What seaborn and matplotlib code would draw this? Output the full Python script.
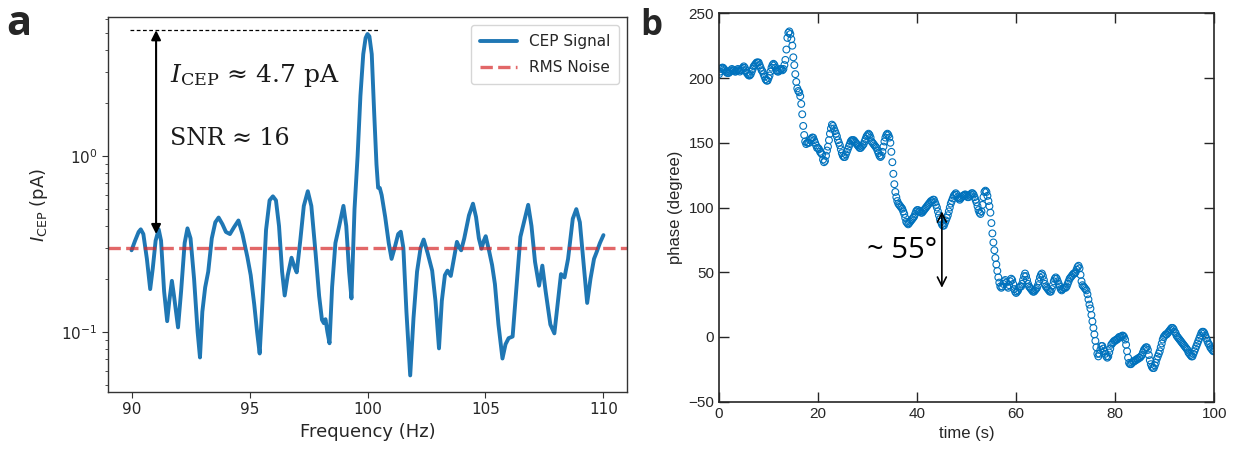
import numpy as np
import pandas as pd
import matplotlib
matplotlib.use("Agg")
import matplotlib.pyplot as plt
import seaborn as sns

# ---------------- Panel a data: CEP current spectrum ----------------
freq_hz = [
    90.00, 90.15, 90.30, 90.39, 90.50, 90.65, 90.79, 90.90, 91.02, 91.15,
    91.25, 91.38, 91.51, 91.60, 91.71, 91.80, 91.97, 92.10, 92.25, 92.37,
    92.50, 92.65, 92.80, 92.90, 93.00, 93.12, 93.25, 93.40, 93.55, 93.69,
    93.85, 94.00, 94.17, 94.35, 94.53, 94.70, 94.91, 95.05, 95.20, 95.32,
    95.43, 95.55, 95.70, 95.85, 95.99, 96.12, 96.25, 96.38, 96.49, 96.62,
    96.78, 96.90, 97.00, 97.15, 97.30, 97.47, 97.62, 97.80, 97.95, 98.07,
    98.15, 98.22, 98.30, 98.39, 98.50, 98.64, 98.80, 98.98, 99.10, 99.22,
    99.32, 99.45, 99.58, 99.70, 99.82, 99.92, 100.00, 100.08, 100.18, 100.28,
    100.38, 100.45, 100.52, 100.60, 100.75, 100.90, 101.02, 101.15, 101.30, 101.41,
    101.52, 101.65, 101.81, 101.95, 102.10, 102.25, 102.38, 102.55, 102.74, 102.88,
    103.03, 103.15, 103.28, 103.39, 103.53, 103.66, 103.79, 103.90, 103.97, 104.10,
    104.30, 104.47, 104.60, 104.72, 104.83, 104.93, 105.01, 105.15, 105.28, 105.40,
    105.55, 105.72, 105.85, 105.98, 106.15, 106.30, 106.48, 106.65, 106.81, 106.95,
    107.10, 107.27, 107.41, 107.55, 107.75, 107.92, 108.05, 108.20, 108.35, 108.50,
    108.70, 108.85, 109.00, 109.15, 109.31, 109.45, 109.60, 109.71, 109.85, 110.00,
]
cep_signal_pa = [
    0.291, 0.330, 0.370, 0.383, 0.360, 0.260, 0.175, 0.230, 0.330, 0.383,
    0.330, 0.170, 0.115, 0.150, 0.195, 0.160, 0.106, 0.170, 0.320, 0.388,
    0.340, 0.200, 0.100, 0.0715, 0.130, 0.179, 0.220, 0.340, 0.420, 0.447,
    0.410, 0.370, 0.360, 0.395, 0.430, 0.360, 0.266, 0.210, 0.143, 0.100,
    0.0753, 0.150, 0.380, 0.560, 0.590, 0.560, 0.400, 0.220, 0.161, 0.210,
    0.264, 0.235, 0.218, 0.330, 0.520, 0.631, 0.520, 0.280, 0.160, 0.117,
    0.112, 0.118, 0.100, 0.0861, 0.180, 0.320, 0.400, 0.521, 0.400, 0.220,
    0.155, 0.500, 1.000, 2.200, 3.800, 4.700, 4.950, 4.800, 3.800, 1.800,
    0.900, 0.660, 0.659, 0.600, 0.450, 0.320, 0.260, 0.300, 0.360, 0.371,
    0.300, 0.130, 0.0565, 0.120, 0.220, 0.300, 0.335, 0.280, 0.223, 0.150,
    0.0805, 0.150, 0.210, 0.223, 0.208, 0.260, 0.325, 0.300, 0.291, 0.340,
    0.460, 0.536, 0.450, 0.340, 0.297, 0.330, 0.350, 0.290, 0.240, 0.187,
    0.110, 0.0705, 0.085, 0.092, 0.094, 0.170, 0.347, 0.430, 0.528, 0.400,
    0.250, 0.183, 0.238, 0.170, 0.110, 0.098, 0.140, 0.213, 0.204, 0.260,
    0.440, 0.499, 0.420, 0.250, 0.146, 0.200, 0.260, 0.284, 0.320, 0.355,
]
rms_noise_pa = 0.30
peak_marker_pa = 5.2
arrow_bottom_pa = 0.36
freq_ticks = [90, 95, 100, 105, 110]

# ---------------- Panel b data: phase vs time (0.2 s sampling) ----------------
phase_deg = [
    203, 205, 207, 208, 208,  207, 206, 205, 204, 204,  204, 205, 206, 207, 206,
    206, 205, 205, 206, 207,  206, 205, 206, 207, 208,  209, 208, 206, 204, 203,
    202, 202, 203, 205, 207,  209, 210, 211, 212, 212,  212, 210, 208, 206, 205,
    203, 201, 199, 198, 198,  200, 202, 205, 208, 210,  211, 210, 208, 206, 205,
    205, 206, 207, 207, 206,  207, 210, 214, 222, 231,  235, 236, 234, 230, 225,
    216, 210, 203, 197, 192,  190, 189, 186, 180, 172,  163, 156, 151, 149, 150,
    150, 150, 152, 153, 154,  154, 152, 150, 148, 146,  146, 145, 143, 142, 141,
    137, 135, 136, 140, 144,  147, 152, 157, 161, 164,  163, 161, 159, 157, 155,
    152, 150, 148, 145, 142,  140, 139, 139, 141, 143,  145, 147, 149, 151, 152,
    152, 152, 151, 150, 149,  148, 147, 146, 146, 147,  148, 149, 151, 153, 155,
    156, 157, 156, 154, 151,  150, 149, 148, 147, 146,  144, 142, 140, 139, 140,
    143, 147, 151, 154, 156,  157, 156, 154, 150, 143,  135, 126, 118, 112, 108,
    105, 103, 102, 101, 100,  99, 97, 95, 92, 89,  88, 87, 88, 89, 90,
    91, 92, 93, 95, 97,  98, 98, 97, 97, 96,  96, 97, 98, 99, 100,
    101, 102, 103, 104, 105,  105, 106, 106, 104, 102,  100, 97, 94, 91, 89,
    87, 86, 86, 88, 90,  92, 94, 97, 100, 103,  105, 107, 109, 110, 111,
    110, 108, 107, 106, 107,  108, 109, 109, 110, 110,  109, 108, 108, 109, 110,
    111, 111, 110, 108, 106,  104, 101, 98, 96, 95,  97, 102, 108, 112, 113,
    112, 109, 105, 101, 96,  88, 80, 73, 67, 61,  56, 51, 46, 42, 39,
    38, 39, 41, 43, 44,  42, 39, 38, 40, 43,  45, 44, 41, 37, 35,
    34, 35, 36, 38, 39,  39, 41, 44, 47, 49,  47, 44, 41, 39, 38,
    37, 36, 35, 35, 36,  37, 38, 40, 43, 46,  48, 49, 47, 44, 41,
    39, 38, 37, 36, 35,  35, 37, 40, 43, 45,  46, 45, 43, 41, 39,
    37, 36, 37, 38, 38,  38, 39, 41, 43, 45,  46, 47, 48, 49, 49,
    50, 52, 54, 55, 53,  48, 43, 40, 39, 38,  37, 36, 33, 29, 25,
    22, 17, 12, 7, 2,  -3, -8, -13, -15, -13,  -10, -7, -7, -9, -11,
    -13, -15, -16, -15, -12,  -9, -6, -5, -4, -3,  -3, -2, -2, -1, 0,
    0, 0, 1, 1, 0,  -2, -6, -11, -16, -20,  -21, -21, -20, -19, -19,
    -18, -18, -17, -17, -16,  -16, -15, -14, -12, -10,  -9, -8, -8, -10, -14,
    -18, -21, -23, -24, -24,  -22, -20, -17, -15, -13,  -11, -8, -5, -2, 0,
    1, 2, 2, 3, 4,  5, 6, 7, 7, 6,  4, 3, 1, 0, -1,
    -2, -3, -4, -5, -6,  -7, -8, -9, -10, -12,  -13, -14, -15, -15, -13,
    -11, -9, -7, -5, -3,  -1, 1, 3, 4, 4,  3, 1, -1, -3, -5,
    -6, -8, -9, -10, -11,  -11,
]
time_s = np.linspace(0, 100, len(phase_deg))
time_ticks = [0, 20, 40, 60, 80, 100]
phase_ticks = [-50, 0, 50, 100, 150, 200, 250]

# ---------------- Figure ----------------
sns.set_style("ticks")
plt.rcParams["font.family"] = ["DejaVu Sans"]

fig = plt.figure(figsize=(12.38, 4.51), dpi=100)

# ---- Panel a ----
axa = fig.add_axes([0.0872, 0.1317, 0.4193, 0.8297])
dfa = pd.DataFrame({"freq": freq_hz, "signal": cep_signal_pa})
sns.lineplot(data=dfa, x="freq", y="signal", ax=axa, color="#1f77b4",
             linewidth=2.8, label="CEP Signal", sort=False)
axa.axhline(rms_noise_pa, color="tab:red", alpha=0.7, linestyle="--",
            linewidth=2.4, label="RMS Noise")
axa.set_yscale("log")
axa.set_xlim(89.0, 111.0)
axa.set_ylim(0.0457, 6.15)
axa.set_xticks(freq_ticks)
axa.set_xticklabels([str(v) for v in freq_ticks])
axa.set_xlabel("Frequency (Hz)", fontsize=13, color="#262626")
axa.set_ylabel(r"$I_{\mathrm{CEP}}$ (pA)", fontsize=13, color="#262626",
               labelpad=8)
axa.tick_params(axis="both", which="major", labelsize=11, labelcolor="#262626",
                length=4, width=0.8, color="#333333")
axa.tick_params(axis="y", which="minor", length=2.5, width=0.6, color="#333333")
for sp in axa.spines.values():
    sp.set_visible(True)
    sp.set_color("#333333")
    sp.set_linewidth(1.0)

leg = axa.legend(loc="upper right", fontsize=11, frameon=True, fancybox=True,
                 handlelength=2.4, borderpad=0.6, labelspacing=0.7)
leg.get_frame().set_edgecolor("#cccccc")
for t in leg.get_texts():
    t.set_color("#262626")

# peak reference line and arrow
axa.plot([89.95, 100.45], [peak_marker_pa, peak_marker_pa], color="black",
         linestyle=(0, (3, 2)), linewidth=0.9)
axa.annotate("", xy=(91.04, arrow_bottom_pa), xytext=(91.04, peak_marker_pa),
             arrowprops=dict(arrowstyle="<|-|>", color="black", lw=1.5,
                             mutation_scale=14, shrinkA=0, shrinkB=0))
axa.text(91.65, 2.64, r"$I_{\mathrm{CEP}}$ ≈ 4.7 pA", fontsize=18,
         family="DejaVu Serif", math_fontfamily="dejavuserif", va="baseline",
         color="#1a1a1a")
axa.text(91.62, 1.15, "SNR ≈ 16", fontsize=17, family="DejaVu Serif",
         va="baseline", color="#1a1a1a")

# ---- Panel b ----
axb = fig.add_axes([0.5808, 0.1093, 0.4000, 0.8612])
dfb = pd.DataFrame({"time": time_s, "phase": phase_deg})
sns.scatterplot(data=dfb, x="time", y="phase", ax=axb, color="#0072BD",
                marker="o", s=24, linewidth=0.8)
coll = axb.collections[0]
coll.set_facecolor("none")
coll.set_edgecolor("#0072BD")
axb.set_xlim(0, 100)
axb.set_ylim(-50, 250)
axb.set_xticks(time_ticks)
axb.set_yticks(phase_ticks)
axb.set_xlabel("time (s)", fontsize=12, color="#262626", family="Liberation Sans")
axb.set_ylabel("phase (degree)", fontsize=12, color="#262626", family="Liberation Sans")
axb.tick_params(axis="both", direction="in", top=True, right=True, length=7,
                width=1.0, color="#262626", labelsize=11, labelcolor="#262626")
for lab in axb.get_xticklabels() + axb.get_yticklabels():
    lab.set_family("Liberation Sans")
for sp in axb.spines.values():
    sp.set_visible(True)
    sp.set_color("#262626")
    sp.set_linewidth(1.2)

axb.annotate("", xy=(45, 97), xytext=(45, 38),
             arrowprops=dict(arrowstyle="<->", color="black", lw=1.2,
                             mutation_scale=16, shrinkA=0, shrinkB=0))
axb.text(29.8, 61, "~ 55°", fontsize=21, family="Open Sans",
         va="baseline", color="black")

# panel letters
fig.text(0.005, 0.922, "a", fontsize=30, fontweight="bold", family="Open Sans",
         va="baseline")
fig.text(0.517, 0.922, "b", fontsize=25, fontweight="bold", family="Open Sans",
         va="baseline")

fig.savefig("out.png", dpi=100)
